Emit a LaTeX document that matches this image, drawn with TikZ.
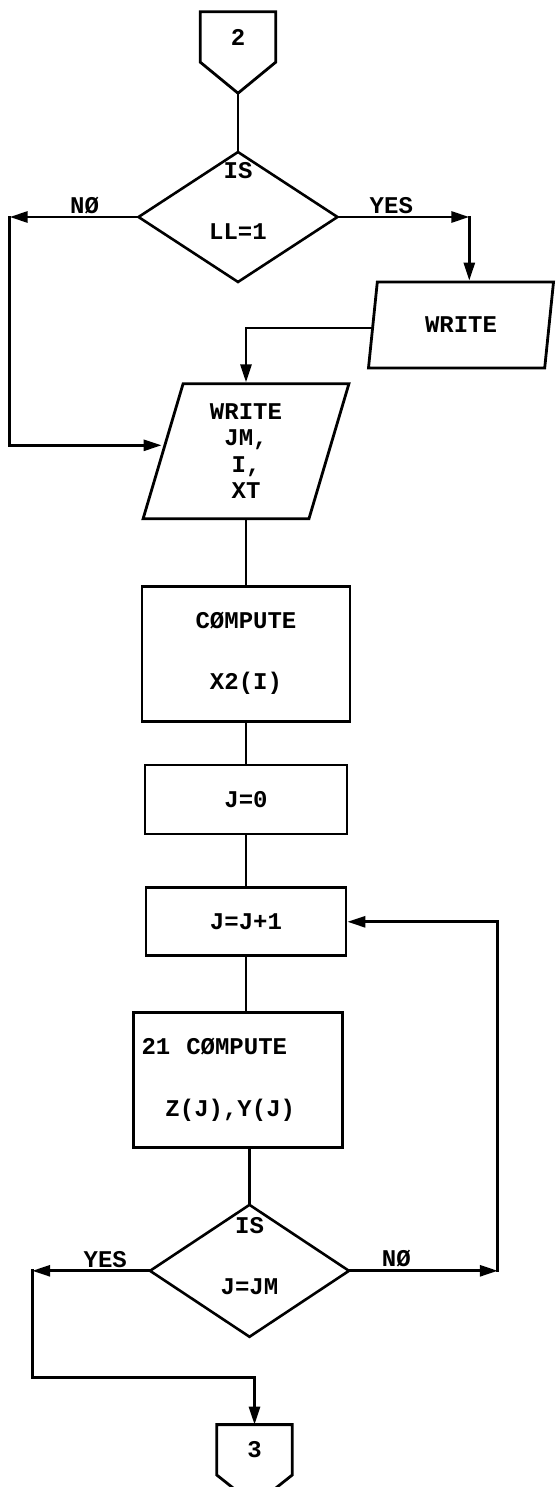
\documentclass[tikz,border=0pt]{standalone}
\usepackage{fontspec}
\setmonofont{Liberation Mono}
\usetikzlibrary{shapes.geometric,arrows.meta,positioning,calc}

\begin{document}
\begin{tikzpicture}[
  x=1pt,y=-1pt,
  font=\ttfamily\bfseries\fontsize{24}{26.5}\selectfont,
  ln/.style={line width=2.8pt,line cap=rect},
  arr/.style={-{Triangle[length=18pt,width=11pt]},line width=2.8pt,line cap=rect},
  box/.style={draw,line width=2.8pt,align=center,inner sep=0pt},
  io/.style={trapezium,trapezium left angle=76.5,trapezium right angle=103.5,trapezium stretches=true,draw,line width=2.8pt,align=center,inner sep=0pt},
  dec/.style={diamond,draw,line width=2.6pt,minimum width=200pt,minimum height=131pt,inner sep=0pt},
  conn/.style={minimum width=75pt,minimum height=50pt,inner sep=0pt},
  lbl/.style={above,inner sep=2pt}
]
\useasboundingbox (0,0) rectangle (555,1487);
% conector de entrada
\node[conn] (c2) at (238,37) {2};
\draw[ln] (c2.north west) -- (c2.north east) -- (c2.south east) -- ([yshift=-31pt]c2.south) -- (c2.south west) -- cycle;
\coordinate (c2tip) at ([yshift=-31pt]c2.south);
% pregunta LL
\node[dec,below=88pt of c2] (dec1) {};
\node (d1is) at ([yshift=-20pt]dec1.north) {IS};
\node (d1q) at ([yshift=-15pt]dec1.center) {LL=1};
% salidas
\node[io,minimum width=186pt,minimum height=86pt] (wr1) at (461,325) {WRITE};
\node[io,minimum width=206pt,minimum height=135pt] (wr2) at ([xshift=8pt,yshift=-167.5pt]dec1.south) {WRITE\\JM,\\I,\\XT};
% calculos
\node[box,minimum width=208pt,minimum height=135pt,below=133.5pt of wr2.center] (comp) {CØMPUTE\\[34.5pt]X2(I)};
\node[box,minimum width=202pt,minimum height=69pt,below=41pt of comp] (jzero) {J=0};
\node[box,minimum width=200pt,minimum height=68pt,below=51pt of jzero] (jinc) {J=J+1};
\node[box,minimum width=209pt,minimum height=135pt,text width=193pt,align=left,inner xsep=8pt,below=54pt of jinc,xshift=-8pt] (comp21) {21~~CØMPUTE\\[35.5pt]\mbox{}~~~Z(J),Y(J)};
% pregunta J
\node[dec,minimum height=133pt,below=54pt of comp21,xshift=11.5pt] (dec2) {};
\node (d2is) at ([yshift=-23pt]dec2.north) {IS};
\node (d2q) at ([yshift=-16pt]dec2.center) {J=JM};
% conector de salida
\node[conn,below=86pt of dec2,xshift=5pt] (c3) {3};
\draw[ln] (c3.north west) -- (c3.north east) -- (c3.south east) -- ([yshift=-30pt]c3.south) -- (c3.south west) -- cycle;

% esquinas
\coordinate (lft1) at ([xshift=-127pt]dec1.west);
\coordinate (rgt1) at ([xshift=130pt]dec1.east);
\coordinate (rgt2) at ([xshift=147pt]dec2.east);
\coordinate (lft2) at ([xshift=-116pt]dec2.west);
\coordinate (bot) at ([yshift=-107pt]lft2);

\draw[ln] (c2tip) -- (dec1);
\draw[arr] (dec1.west) -- node[lbl,pos=0.41] (lno1) {NØ} (lft1);
\draw[arr] (lft1) |- ([yshift=6pt]wr2.left side);
\draw[arr] (dec1.east) -- node[lbl,pos=0.4] (lyes1) {YES} (rgt1);
\draw[arr] (rgt1) -- (rgt1 |- wr1.top side);
\draw[arr] ([yshift=-3pt]wr1.left side) -| (wr2.center |- wr2.north);
\draw[ln] (wr2.center |- wr2.south) -- (comp);
\draw[ln] (comp) -- (jzero);
\draw[ln] (jzero) -- (jinc);
\draw[ln] (jinc.south) -- (jinc.south |- comp21.north);
\draw[ln] (comp21.south -| dec2.north) -- (dec2.north);
\draw[arr] (dec2.east) -- node[lbl,pos=0.31] (lno2) {NØ} (rgt2);
\draw[arr] (rgt2) |- (jinc.east);
\draw[arr] (dec2.west) -- node[lbl,pos=0.37] (lyes2) {YES} (lft2);
\draw[arr] (lft2) -- (bot) -| (c3.north);
\end{tikzpicture}
\end{document}
